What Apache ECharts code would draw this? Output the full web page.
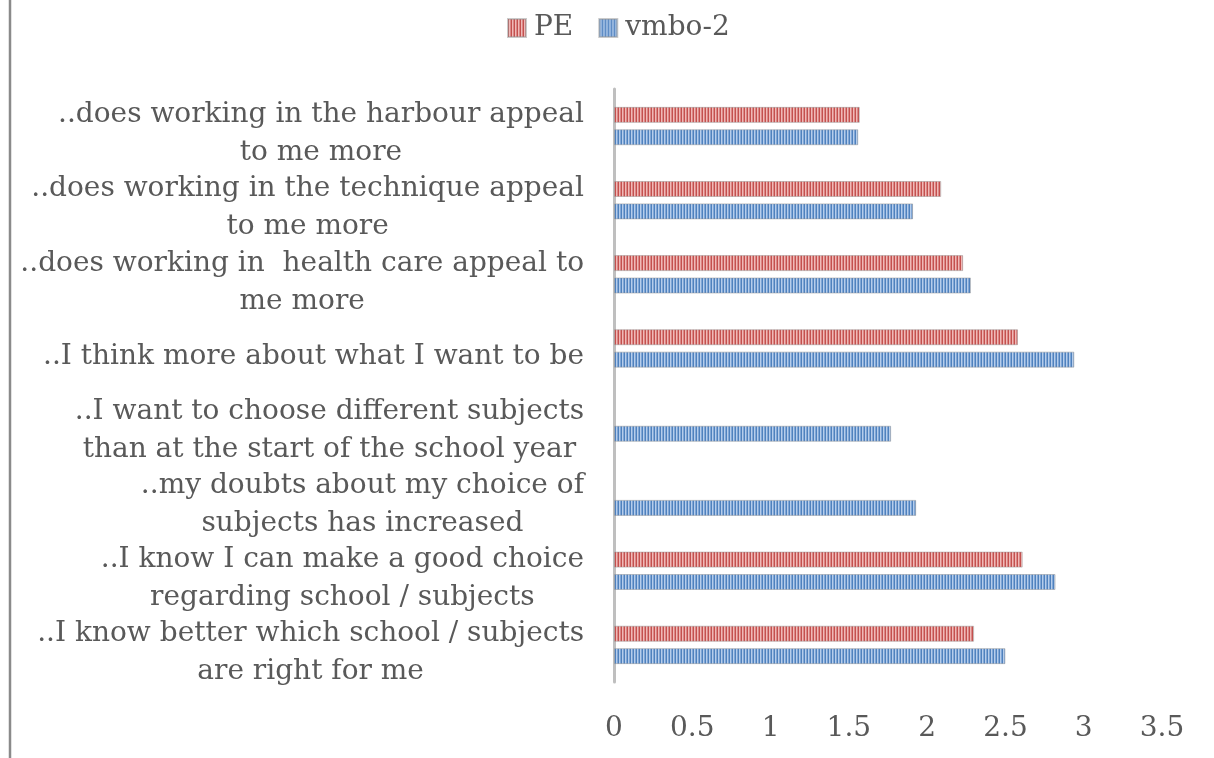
<!DOCTYPE html>
<html>
<head>
<meta charset="utf-8">
<script src="https://cdn.jsdelivr.net/npm/echarts@6/dist/echarts.min.js"></script>
<style>
html,body{margin:0;padding:0;background:#fff;}
#chart{width:1214px;height:758px;}
</style>
</head>
<body>
<div id="chart"></div>
<script>
// Categories, top to bottom (as shown in the chart)
const categories = [
  '..does working in the harbour appeal\nto me more',
  '..does working in the technique appeal\nto me more',
  '..does working in  health care appeal to\nme more',
  '..I think more about what I want to be',
  '..I want to choose different subjects\nthan at the start of the school year',
  '..my doubts about my choice of\nsubjects has increased',
  '..I know I can make a good choice\nregarding school / subjects',
  '..I know better which school / subjects\nare right for me'
];
const seriesNames = ['PE', 'vmbo-2'];
const peValues   = [1.57, 2.09, 2.23, 2.58, null, null, 2.61, 2.30];
const vmboValues = [1.56, 1.91, 2.28, 2.94, 1.77, 1.93, 2.82, 2.50];
const xTicks = { min: 0, max: 3.5, interval: 0.5 };

const FONT = '"DejaVu Serif", serif';
const TEXT = '#595959';

function stripes(cols) {
  const cv = document.createElement('canvas');
  cv.width = cols.length; cv.height = 4;
  const ctx = cv.getContext('2d');
  cols.forEach((c, i) => { ctx.fillStyle = c; ctx.fillRect(i, 0, 1, 4); });
  return { image: cv, repeat: 'repeat' };
}
const redFill  = stripes(['#C4504E', '#F0B9B7', '#DB8886']);
const blueFill = stripes(['#4F81BD', '#B6CDEB', '#80A7D7']);

const chart = echarts.init(document.getElementById('chart'), null, { renderer: 'canvas' });
chart.setOption({
  animation: false,
  backgroundColor: '#ffffff',
  legend: {
    left: 502, top: 9,
    itemWidth: 18, itemHeight: 18, itemGap: 25,
    icon: 'rect',
    textStyle: { fontSize: 28, fontFamily: FONT, color: TEXT, padding: [0, 0, 0, 3] },
    data: seriesNames
  },
  graphic: [{
    type: 'line', silent: true,
    shape: { x1: 10, y1: 0, x2: 10, y2: 758 },
    style: { stroke: '#8a8a8a', lineWidth: 2.5 }
  }],
  grid: { left: 614, right: 52, top: 89, bottom: 76, containLabel: false },
  xAxis: {
    type: 'value', min: xTicks.min, max: xTicks.max, interval: xTicks.interval,
    axisLine: { show: false }, axisTick: { show: false }, splitLine: { show: false },
    axisLabel: { fontSize: 28, fontFamily: FONT, color: TEXT, margin: 33 }
  },
  yAxis: {
    type: 'category', inverse: true, data: categories,
    axisLine: { show: true, lineStyle: { color: '#bfbfbf', width: 3 } },
    axisTick: { show: false },
    axisLabel: {
      margin: 30,
      padding: [16, 0, 0, 0],
      formatter: v => v.split('\n').map(l => '{c|' + l + '}').join('\n'),
      rich: { c: { align: 'center', fontSize: 28, fontFamily: FONT, color: TEXT, lineHeight: 38 } }
    }
  },
  series: [
    {
      name: seriesNames[0], type: 'bar', data: peValues,
      barWidth: 16, barGap: '40%',
      itemStyle: { color: redFill, borderColor: 'rgba(150,150,150,0.5)', borderWidth: 1 }
    },
    {
      name: seriesNames[1], type: 'bar', data: vmboValues,
      barWidth: 16, barGap: '40%',
      itemStyle: { color: blueFill, borderColor: 'rgba(150,150,150,0.5)', borderWidth: 1 }
    }
  ]
});
</script>
</body>
</html>
